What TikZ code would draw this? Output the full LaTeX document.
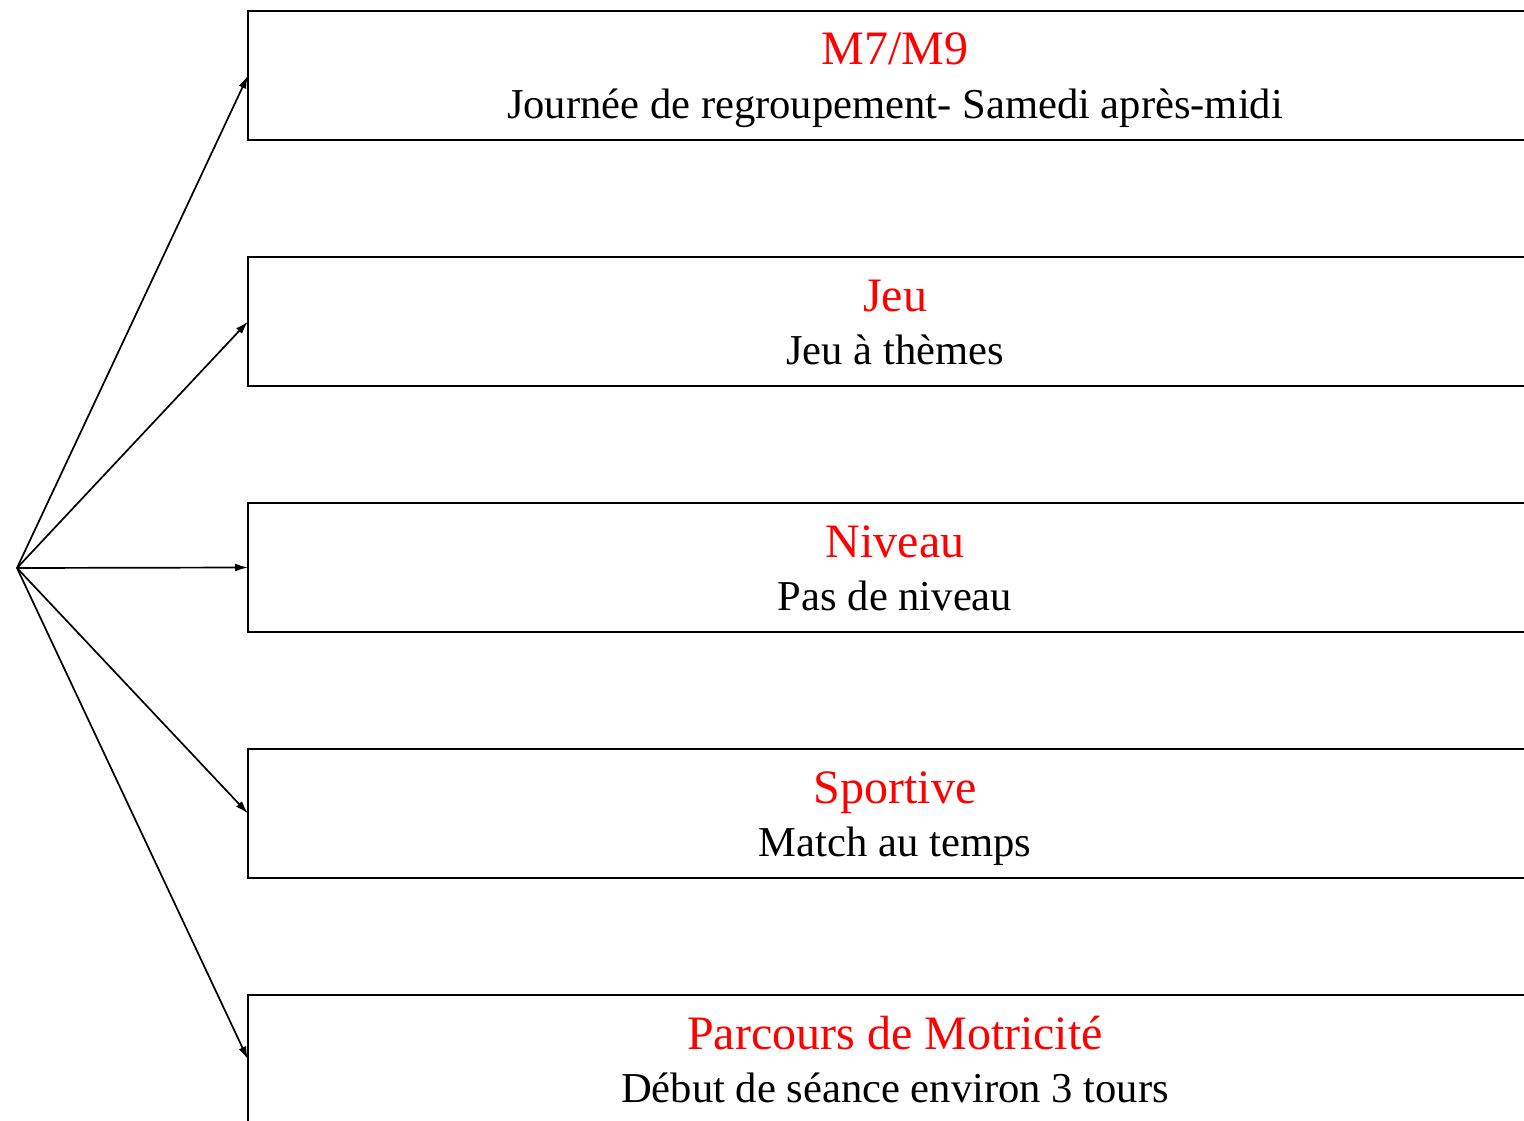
\documentclass[tikz,border=0pt]{standalone}
\usepackage{fontspec}
\setmainfont{Liberation Serif}
\usetikzlibrary{arrows.meta}
\begin{document}
\begin{tikzpicture}[x=1pt,y=-1pt,
  box/.style={draw=black,line width=2pt,minimum width=1294pt,minimum height=129pt,inner sep=0pt,outer sep=0pt},
  ttl/.style={anchor=base,text=red,font=\fontsize{48}{50}\selectfont,inner sep=0pt},
  sub/.style={anchor=base,text=black,font=\fontsize{42.6}{44}\selectfont,inner sep=0pt},
  arr/.style={line width=1.7pt,-{Latex[length=13pt,width=8pt]}}]
\useasboundingbox (0,0) rectangle (1524,1121);
\clip (0,0) rectangle (1524,1121);
\coordinate (src) at (17,568);
\node[box] (b1) at (895,75.5) {};
\node[box] (b2) at (895,321.5) {};
\node[box] (b3) at (895,567.5) {};
\node[box] (b4) at (895,813.5) {};
\node[box] (b5) at (895,1059.5) {};
\foreach \b/\t/\s in {b1/M7\slash M9/Journée de regroupement- Samedi après-midi,
                      b2/Jeu/Jeu à thèmes,
                      b3/Niveau/Pas de niveau,
                      b4/Sportive/Match au temps,
                      b5/Parcours de Motricité/Début de séance environ 3 tours}{
  \node[ttl] (\b t) at ([yshift=-54pt]\b.north) {\t};
  \node[sub] (\b s) at ([yshift=-107.5pt]\b.north) {\s};
  \draw[arr] (src) -- (\b.west);
}
\end{tikzpicture}
\end{document}
